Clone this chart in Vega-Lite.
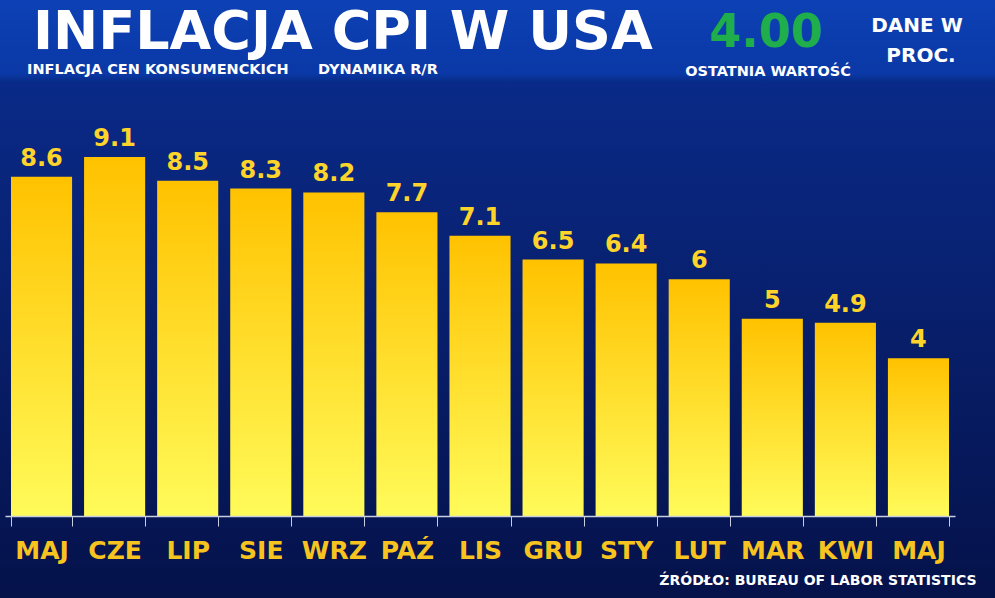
{
  "$schema": "https://vega.github.io/schema/vega-lite/v6.json",
  "autosize": {"type": "none"},
  "width": 950,
  "height": 434,
  "padding": {"left": 5, "top": 82, "right": 40, "bottom": 82},
  "background": "#05134a",
  "config": {
    "view": {"stroke": null},
    "font": "DejaVu Sans",
    "text": {"font": "DejaVu Sans", "fontWeight": "bold"}
  },
  "data": {
    "values": [
      {"m": "MAJ 2022", "v": 8.6},
      {"m": "CZE 2022", "v": 9.1},
      {"m": "LIP 2022", "v": 8.5},
      {"m": "SIE 2022", "v": 8.3},
      {"m": "WRZ 2022", "v": 8.2},
      {"m": "PAŹ 2022", "v": 7.7},
      {"m": "LIS 2022", "v": 7.1},
      {"m": "GRU 2022", "v": 6.5},
      {"m": "STY 2023", "v": 6.4},
      {"m": "LUT 2023", "v": 6},
      {"m": "MAR 2023", "v": 5},
      {"m": "KWI 2023", "v": 4.9},
      {"m": "MAJ 2023", "v": 4}
    ]
  },
  "encoding": {
    "x": {
      "field": "m",
      "type": "nominal",
      "sort": null,
      "scale": {"paddingInner": 0.164, "paddingOuter": 0.082},
      "axis": {
        "zindex": 2,
        "labelAngle": 0,
        "labelExpr": "split(datum.label, ' ')[0]",
        "labelFont": "DejaVu Sans",
        "labelFontWeight": "bold",
        "labelFontSize": 25,
        "labelColor": "#f6c31f",
        "labelPadding": 12,
        "tickBand": "extent",
        "tickSize": 10,
        "tickColor": "#c9cde0",
        "tickWidth": 1,
        "domainColor": "#c9cde0",
        "domainWidth": 1.5,
        "title": "ŹRÓDŁO: BUREAU OF LABOR STATISTICS",
        "titleFont": "DejaVu Sans",
        "titleFontWeight": "bold",
        "titleFontSize": 14,
        "titleColor": "#ffffff",
        "titleAnchor": "end",
        "titleAlign": "right",
        "titleBaseline": "alphabetic",
        "titleX": 971,
        "titleY": 68
      }
    }
  },
  "layer": [
    {
      "mark": {
        "type": "rect",
        "color": {"gradient": "linear", "x1": 0, "y1": 0, "x2": 0, "y2": 1,
          "stops": [{"offset": 0, "color": "#0a2a88"}, {"offset": 1, "color": "#05124a"}]}
      },
      "encoding": {
        "x": {"value": -5}, "x2": {"value": 990},
        "y": {"value": 0}, "y2": {"value": 516}
      }
    },
    {
      "mark": {
        "type": "rect",
        "color": {"gradient": "linear", "x1": 0, "y1": 0, "x2": 0, "y2": 1,
          "stops": [{"offset": 0, "color": "#0d41b5"}, {"offset": 0.9, "color": "#0a38a6"}, {"offset": 1, "color": "#072c86"}]}
      },
      "encoding": {
        "x": {"value": -5}, "x2": {"value": 990},
        "y": {"value": -82}, "y2": {"value": 0}
      }
    },
    {
      "mark": {
        "type": "bar",
        "color": {"gradient": "linear", "x1": 0, "y1": 0, "x2": 0, "y2": 1,
          "stops": [{"offset": 0, "color": "#ffc200"}, {"offset": 1, "color": "#fffb5a"}]}
      },
      "encoding": {
        "y": {"field": "v", "type": "quantitative", "scale": {"domain": [0, 11]}, "axis": null}
      }
    },
    {
      "mark": {"type": "text", "baseline": "alphabetic", "dy": -11, "fontSize": 24, "color": "#ffd42a"},
      "encoding": {
        "y": {"field": "v", "type": "quantitative"},
        "text": {"field": "v", "type": "quantitative"}
      }
    },
    {
      "transform": [{"filter": "datum.m === 'MAJ 2023'"}],
      "mark": {"type": "text", "align": "center", "baseline": "alphabetic", "fontSize": 46, "color": "#1fae4b"},
      "encoding": {
        "x": {"value": 761}, "y": {"value": -35},
        "text": {"field": "v", "type": "quantitative", "format": ".2f"}
      }
    },
    {
      "data": {"values": [
        {"t": "INFLACJA CPI W USA", "px": 28, "py": -33, "s": 54},
        {"t": "INFLACJA CEN KONSUMENCKICH", "px": 22, "py": -8, "s": 14.5},
        {"t": "DYNAMIKA R/R", "px": 313, "py": -8, "s": 14.5}
      ]},
      "mark": {"type": "text", "align": "left", "baseline": "alphabetic", "color": "#ffffff"},
      "encoding": {
        "x": {"field": "px", "type": "quantitative", "scale": null},
        "y": {"field": "py", "type": "quantitative", "scale": null},
        "text": {"field": "t"},
        "size": {"field": "s", "type": "quantitative", "scale": null}
      }
    },
    {
      "data": {"values": [
        {"t": "OSTATNIA WARTOŚĆ", "px": 763, "py": -6, "s": 14.5},
        {"t": "DANE W", "px": 912, "py": -50, "s": 20},
        {"t": "PROC.", "px": 916, "py": -20, "s": 20}
      ]},
      "mark": {"type": "text", "align": "center", "baseline": "alphabetic", "color": "#ffffff"},
      "encoding": {
        "x": {"field": "px", "type": "quantitative", "scale": null},
        "y": {"field": "py", "type": "quantitative", "scale": null},
        "text": {"field": "t"},
        "size": {"field": "s", "type": "quantitative", "scale": null}
      }
    }
  ]
}
